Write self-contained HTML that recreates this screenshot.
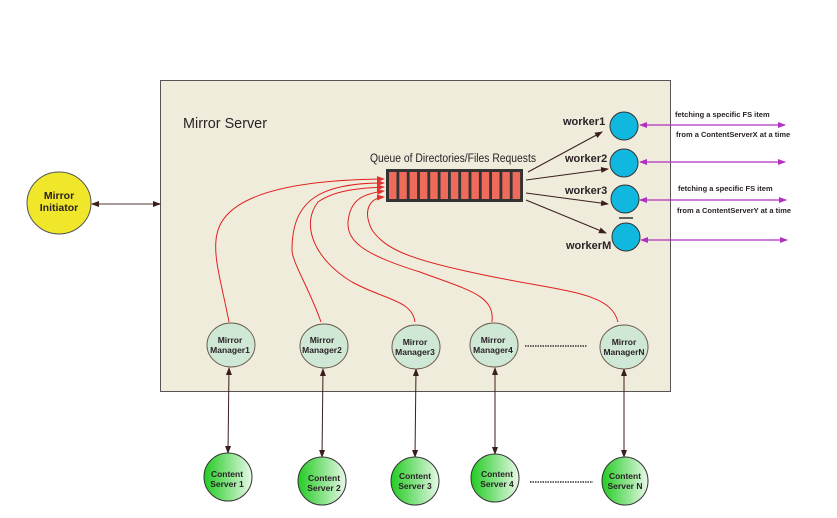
<!DOCTYPE html>
<html><head><meta charset="utf-8"><style>
html,body{margin:0;padding:0;background:#fff;}
svg text{font-family:"Liberation Sans",sans-serif;font-weight:bold;fill:#2a2226;}
</style></head><body>
<svg width="837" height="513" viewBox="0 0 837 513" xmlns="http://www.w3.org/2000/svg">
<defs>
<marker id="ad" markerWidth="8" markerHeight="8" refX="7" refY="4" orient="auto-start-reverse" markerUnits="userSpaceOnUse"><path d="M0,1 L8,4 L0,7 z" fill="#3a1e1e"/></marker>
<marker id="am" markerWidth="8" markerHeight="8" refX="7" refY="4" orient="auto-start-reverse" markerUnits="userSpaceOnUse"><path d="M0,1 L8,4 L0,7 z" fill="#b030c0"/></marker>
<marker id="ar" markerWidth="8" markerHeight="8" refX="7" refY="4" orient="auto" markerUnits="userSpaceOnUse"><path d="M0,1 L8,4 L0,7 z" fill="#e03030"/></marker>
<linearGradient id="g" x1="0" x2="1"><stop offset="0" stop-color="#22cc22"/><stop offset="1" stop-color="#e8f8e8"/></linearGradient>
</defs>
<rect x="160.5" y="80.5" width="510" height="311" fill="#f0ecdc" stroke="#555" stroke-width="1"/>
<text x="183" y="128" font-size="15" style="font-weight:normal" textLength="84" lengthAdjust="spacingAndGlyphs">Mirror Server</text>
<text x="370" y="162" font-size="11.5" style="font-weight:normal" textLength="166" lengthAdjust="spacingAndGlyphs">Queue of Directories/Files Requests</text>
<line x1="92" y1="204" x2="160" y2="204" stroke="#8a7a7a" stroke-width="1.5" marker-start="url(#ad)" marker-end="url(#ad)"/>
<ellipse cx="59" cy="203" rx="32" ry="31" fill="#f0e62a" stroke="#555"/>
<text x="59" y="199" font-size="10.5" text-anchor="middle">Mirror</text>
<text x="59" y="211" font-size="10.5" text-anchor="middle">Initiator</text>
<g fill="none" stroke="#e02020" stroke-width="1">
<path d="M229,322 C222,285 212,255 217,234 C225,195 290,180 384,179" marker-end="url(#ar)"/>
<path d="M321,322 C310,290 292,262 292,250 C292,200 320,183 384,183" marker-end="url(#ar)"/>
<path d="M415,322 C412,300 385,300 352,282 C315,260 300,225 318,202 C335,190 360,188 384,187" marker-end="url(#ar)"/>
<path d="M492,322 C495,295 468,290 420,272 C365,255 347,242 348,222 C350,200 362,194 384,191" marker-end="url(#ar)"/>
<path d="M618,322 C610,290 560,292 470,272 C405,258 385,248 372,230 C362,210 370,198 384,197" marker-end="url(#ar)"/>
</g>
<rect x="386" y="169" width="137" height="33" fill="#333"/>
<g fill="#ee6a5a">
<rect x="389" y="172" width="7.5" height="27"/><rect x="399.3" y="172" width="7.5" height="27"/><rect x="409.6" y="172" width="7.5" height="27"/><rect x="419.9" y="172" width="7.5" height="27"/><rect x="430.2" y="172" width="7.5" height="27"/><rect x="440.5" y="172" width="7.5" height="27"/><rect x="450.8" y="172" width="7.5" height="27"/><rect x="461.1" y="172" width="7.5" height="27"/><rect x="471.4" y="172" width="7.5" height="27"/><rect x="481.7" y="172" width="7.5" height="27"/><rect x="492" y="172" width="7.5" height="27"/><rect x="502.3" y="172" width="7.5" height="27"/><rect x="512.6" y="172" width="7.5" height="27"/>
</g>
<g stroke="#3a1e1e" stroke-width="1">
<line x1="528" y1="172" x2="602" y2="132" marker-end="url(#ad)"/>
<line x1="526" y1="180" x2="608" y2="169" marker-end="url(#ad)"/>
<line x1="526" y1="193" x2="608" y2="204" marker-end="url(#ad)"/>
<line x1="526" y1="200" x2="606" y2="233" marker-end="url(#ad)"/>
</g>
<g fill="#10b8e0" stroke="#333">
<circle cx="624" cy="126" r="14"/><circle cx="624" cy="163" r="14"/><circle cx="625" cy="199" r="14"/><circle cx="626" cy="237" r="14"/>
</g>
<line x1="619" y1="218" x2="633" y2="218" stroke="#333" stroke-width="1.5"/>
<g font-size="11">
<text x="563" y="125">worker1</text><text x="565" y="162">worker2</text><text x="565" y="194">worker3</text><text x="566" y="249">workerM</text>
</g>
<g stroke="#b030c0" stroke-width="1.2">
<line x1="640" y1="125" x2="785" y2="125" marker-start="url(#am)" marker-end="url(#am)"/>
<line x1="640" y1="162" x2="785" y2="162" marker-start="url(#am)" marker-end="url(#am)"/>
<line x1="640" y1="200" x2="786" y2="200" marker-start="url(#am)" marker-end="url(#am)"/>
<line x1="641" y1="240" x2="787" y2="240" marker-start="url(#am)" marker-end="url(#am)"/>
</g>
<g font-size="7.5">
<text x="675" y="117">fetching a specific FS item</text>
<text x="676" y="137">from a ContentServerX at a time</text>
<text x="678" y="191">fetching a specific FS item</text>
<text x="677" y="213">from a ContentServerY at a time</text>
</g>
<g stroke="#3a1e1e" stroke-width="1">
<line x1="229" y1="368" x2="228" y2="453" marker-start="url(#ad)" marker-end="url(#ad)"/>
<line x1="323" y1="369" x2="322" y2="457" marker-start="url(#ad)" marker-end="url(#ad)"/>
<line x1="416" y1="369" x2="415" y2="457" marker-start="url(#ad)" marker-end="url(#ad)"/>
<line x1="495" y1="368" x2="495" y2="454" marker-start="url(#ad)" marker-end="url(#ad)"/>
<line x1="624" y1="369" x2="624" y2="457" marker-start="url(#ad)" marker-end="url(#ad)"/>
</g>
<g fill="#cfe8d6" stroke="#6a5a4a">
<ellipse cx="231" cy="345" rx="24" ry="22"/><ellipse cx="324" cy="346" rx="24" ry="22"/><ellipse cx="416" cy="347" rx="24" ry="22"/><ellipse cx="494" cy="345" rx="24" ry="22"/><ellipse cx="624" cy="347" rx="24" ry="22"/>
</g>
<g font-size="8.5" text-anchor="middle">
<text x="230" y="343">Mirror</text><text x="230" y="353">Manager1</text>
<text x="322" y="343">Mirror</text><text x="322" y="353">Manager2</text>
<text x="415" y="345">Mirror</text><text x="415" y="355">Manager3</text>
<text x="493" y="343">Mirror</text><text x="493" y="353">Manager4</text>
<text x="624" y="345">Mirror</text><text x="624" y="355">ManagerN</text>
</g>
<g stroke="#333" stroke-dasharray="1.5,1" stroke-width="1.5">
<line x1="525" y1="346" x2="587" y2="346"/>
<line x1="530" y1="482" x2="593" y2="482"/>
</g>
<g fill="url(#g)" stroke="#333">
<ellipse cx="228" cy="477" rx="24" ry="24"/><ellipse cx="322" cy="481" rx="24" ry="24"/><ellipse cx="415" cy="481" rx="24" ry="24"/><ellipse cx="495" cy="478" rx="24" ry="24"/><ellipse cx="625" cy="481" rx="23" ry="24"/>
</g>
<g font-size="8.5" text-anchor="middle">
<text x="227" y="477">Content</text><text x="227" y="487">Server 1</text>
<text x="324" y="481">Content</text><text x="324" y="491">Server 2</text>
<text x="415" y="479">Content</text><text x="415" y="489">Server 3</text>
<text x="497" y="477">Content</text><text x="497" y="487">Server 4</text>
<text x="625" y="479">Content</text><text x="625" y="489">Server N</text>
</g>
</svg>
</body></html>
